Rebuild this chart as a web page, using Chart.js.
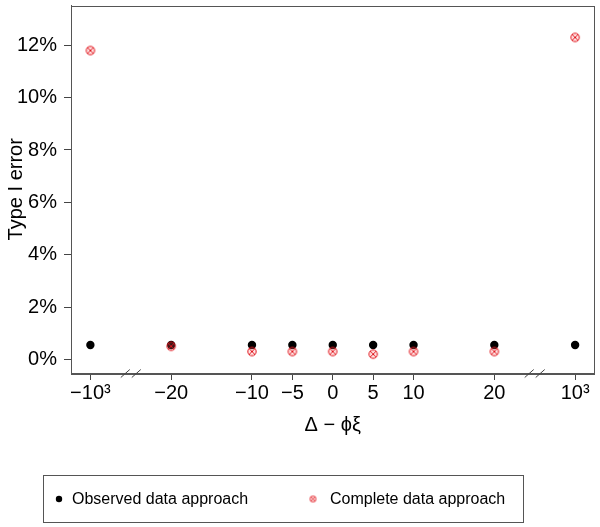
<!DOCTYPE html>
<html><head><meta charset="utf-8">
<script src="https://cdn.jsdelivr.net/npm/chart.js@4/dist/chart.umd.min.js"></script>
<style>html,body{margin:0;padding:0;background:#fff}#wrap{width:600px;height:527px;position:relative}</style>
</head><body><div id="wrap"><canvas id="c"></canvas></div>
<script>
const categories = ['\u221210\u00b3','\u221220','\u221210','\u22125','0','5','10','20','10\u00b3'];
const axisPositions = [-30,-20,-10,-5,0,5,10,20,30];
const observedValues = [0.55,0.55,0.55,0.55,0.55,0.55,0.55,0.55,0.55];
const completeValues = [11.8,0.5,0.3,0.3,0.3,0.2,0.3,0.3,12.3];
const yTicks = [0,2,4,6,8,10,12];
const breakPositions = [-25,25];
const seriesNames = ['Observed data approach','Complete data approach'];

const FONT = '"Liberation Sans", Arial, Helvetica, sans-serif';
Chart.defaults.font.family = FONT;
Chart.defaults.color = '#000';

function crossedCircle(r, fillA, lw){
  const s = Math.ceil(2*r+3), c = document.createElement('canvas');
  c.width = s; c.height = s;
  const g = c.getContext('2d'), m = s/2;
  g.strokeStyle = '#e0141c'; g.lineWidth = lw;
  g.fillStyle = 'rgba(255,120,120,' + fillA + ')';
  g.beginPath(); g.arc(m, m, r, 0, 2*Math.PI); g.fill(); g.stroke();
  const d = r*0.72;
  g.beginPath(); g.moveTo(m-d, m-d); g.lineTo(m+d, m+d); g.moveTo(m+d, m-d); g.lineTo(m-d, m+d); g.stroke();
  return c;
}
const redMarker = crossedCircle(4.2, 0.2, 1);
const redLegendMarker = crossedCircle(3, 0.15, 0.9);

const extras = {
  id: 'extras',
  afterDraw(chart){
    const ctx = chart.ctx, a = chart.chartArea, xs = chart.scales.x;
    ctx.save();
    ctx.strokeStyle = '#555'; ctx.lineWidth = 1;
    ctx.strokeRect(Math.round(a.left)+0.5, Math.round(a.top)+0.5, Math.round(a.right-a.left)-1, Math.round(a.bottom-a.top));
    ctx.strokeStyle = '#444';
    breakPositions.forEach(v => {
      const px = xs.getPixelForValue(v), y = a.bottom;
      [-5.5, 5.5].forEach(off => {
        ctx.beginPath();
        ctx.moveTo(px+off-4.5, y+4.5); ctx.lineTo(px+off+4.5, y-3.5); ctx.stroke();
      });
    });
    ctx.strokeStyle = '#555';
    ctx.strokeRect(43.5, 475.5, 480, 47);
    ctx.fillStyle = '#000';
    ctx.beginPath(); ctx.arc(59, 499, 3.2, 0, 2*Math.PI); ctx.fill();
    ctx.font = '16px ' + FONT; ctx.textBaseline = 'middle'; ctx.textAlign = 'left';
    ctx.fillText(seriesNames[0], 72, 499.5);
    ctx.drawImage(redLegendMarker, 313 - redLegendMarker.width/2, 499 - redLegendMarker.height/2);
    ctx.fillText(seriesNames[1], 330, 499.5);
    ctx.restore();
  }
};

new Chart(document.getElementById('c'), {
  type: 'scatter',
  data: {
    datasets: [
      { label: seriesNames[1], order: 0,
        data: axisPositions.map((x,i)=>({x, y: completeValues[i]})),
        pointStyle: redMarker, pointRadius: 4.5 },
      { label: seriesNames[0], order: 1,
        data: axisPositions.map((x,i)=>({x, y: observedValues[i]})),
        pointStyle: 'circle', pointRadius: 4.2, backgroundColor: '#000', borderColor: '#000', borderWidth: 0 }
    ]
  },
  plugins: [extras],
  options: {
    responsive: true, maintainAspectRatio: false, animation: false,
    layout: { padding: { top: 3, right: 4, bottom: 90, left: 0 } },
    plugins: { legend: { display: false }, tooltip: { enabled: false } },
    scales: {
      x: {
        type: 'linear', min: -32.4, max: 32.4,
        afterBuildTicks: s => { s.ticks = axisPositions.map(v => ({ value: v })); },
        afterFit: s => { s.height = 64; s.paddingLeft = 0; s.paddingRight = 0; },
        ticks: { callback: v => categories[axisPositions.indexOf(v)], font: { size: 20 }, color: '#000', padding: 1, maxRotation: 0, autoSkip: false },
        grid: { drawOnChartArea: false, drawTicks: true, tickLength: 7, tickColor: '#444' },
        border: { color: '#555', width: 1 },
        title: { display: true, text: '\u0394 \u2212 \u03d5\u03be', font: { size: 20 }, color: '#000', padding: 0 }
      },
      y: {
        type: 'linear', min: -0.52, max: 13.52,
        afterBuildTicks: s => { s.ticks = yTicks.map(v => ({ value: v })); },
        afterFit: s => { s.width = 71; s.paddingTop = 0; s.paddingBottom = 0; },
        ticks: { callback: v => v + '%', font: { size: 20 }, color: '#000', padding: 7 },
        grid: { drawOnChartArea: false, drawTicks: true, tickLength: 7, tickColor: '#444' },
        border: { color: '#555', width: 1 },
        title: { display: true, text: 'Type I error', font: { size: 20 }, color: '#000', padding: { top: 4, bottom: 0 } }
      }
    }
  }
});
</script>
</body></html>
